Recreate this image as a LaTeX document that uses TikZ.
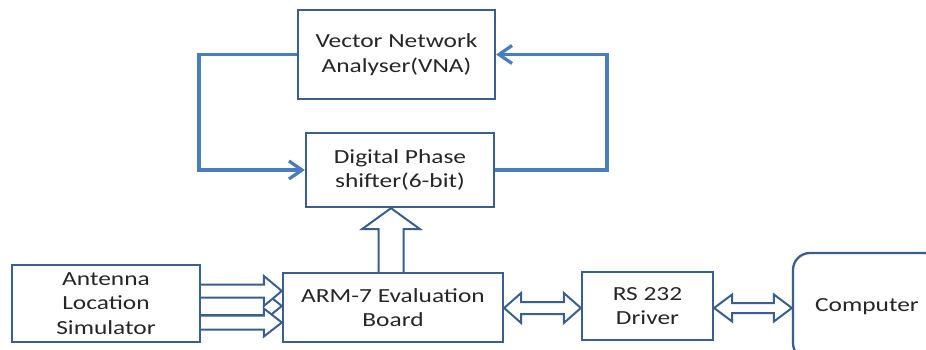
\documentclass[tikz,border=0pt]{standalone}
\usepackage{fontspec}
\setmainfont[FakeStretch=1.27]{Carlito}
\usetikzlibrary{calc,arrows.meta}
\definecolor{boxblue}{HTML}{3A5F8E}
\definecolor{loopblue}{HTML}{4A7EBB}
\definecolor{txt}{HTML}{262626}
\newcommand\hblock[6]{%
  \draw[blk] let \p1=(#1), \p2=(#2) in
    (\x1,{#3+#4}) -- ({\x2-#6},{#3+#4}) -- ({\x2-#6},{#3+#5}) -- (\x2,#3)
    -- ({\x2-#6},{#3-#5}) -- ({\x2-#6},{#3-#4}) -- (\x1,{#3-#4});}
\newcommand\dblock[6]{%
  \draw[blk] let \p1=(#1), \p2=(#2) in
    (\x1,#3) -- ({\x1+#6},{#3+#5}) -- ({\x1+#6},{#3+#4}) -- ({\x2-#6},{#3+#4})
    -- ({\x2-#6},{#3+#5}) -- (\x2,#3) -- ({\x2-#6},{#3-#5}) -- ({\x2-#6},{#3-#4})
    -- ({\x1+#6},{#3-#4}) -- ({\x1+#6},{#3-#5}) -- cycle;}
\begin{document}
\begin{tikzpicture}[x=1pt,y=1pt,
  box/.style={draw=boxblue,line width=2.3pt,fill=white,text=txt,align=center,
    inner sep=0pt,font=\fontsize{20pt}{24.5pt}\selectfont},
  blk/.style={draw=boxblue,line width=2pt,fill=white,line join=miter},
  loop/.style={draw=loopblue,line width=3.3pt,line join=miter,
    -{Straight Barb[length=13pt,width=18pt]}}]
\useasboundingbox (0,0) rectangle (926,349);
\fill[white] (0,0) rectangle (926,349);
\clip (0,0) rectangle (926,349);
% nodes
\node[box,minimum width=197pt,minimum height=89pt] (vna) at (396.5,294.5) {Vector Network\\Analyser(VNA)};
\node[box,minimum width=188pt,minimum height=74pt] (dps) at (400,179) {Digital Phase\\shifter(6-bit)};
\node[box,minimum width=188pt,minimum height=77pt] (ant) at (106,45.5) {Antenna\\Location\\Simulator};
\node[box,minimum width=220pt,minimum height=69pt] (arm) at (393,41.5) {ARM-7 Evaluation\\Board};
\node[box,minimum width=131pt,minimum height=68pt] (rs) at (647.5,43) {RS 232\\Driver};
\node[box,rounded corners=17pt,minimum width=148pt,minimum height=107pt] (comp) at (867,42.5) {Computer};
% feedback loop
\coordinate (lt) at (199,294.5);
\coordinate (rt) at (607,294.5);
\draw[loop] (vna.west) -- (lt) -- (lt |- dps.west) -- (dps.west);
\draw[loop] (dps.east) -- (rt |- dps.east) -- (rt) -- (vna.east);
% input block arrows
\hblock{ant.east}{arm.west}{43}{9.2}{14.5}{18}
\hblock{ant.east}{arm.west}{58}{6.5}{15}{18}
\hblock{ant.east}{arm.west}{26.5}{7}{14}{18}
% up arrow
\draw[blk] let \p1=(arm.north), \p2=(dps.south) in
  ({\x1-2-12.5},\y1) -- ({\x1-2-12.5},{\y2-21}) -- ({\x1-2-29},{\y2-21}) -- ({\x1-2},\y2)
  -- ({\x1-2+29},{\y2-21}) -- ({\x1-2+12.5},{\y2-21}) -- ({\x1-2+12.5},\y1);
% bidirectional arrows
\dblock{arm.east}{rs.west}{41}{6}{15}{17}
\dblock{rs.east}{comp.west}{41}{5}{13.5}{18}
\end{tikzpicture}
\end{document}
